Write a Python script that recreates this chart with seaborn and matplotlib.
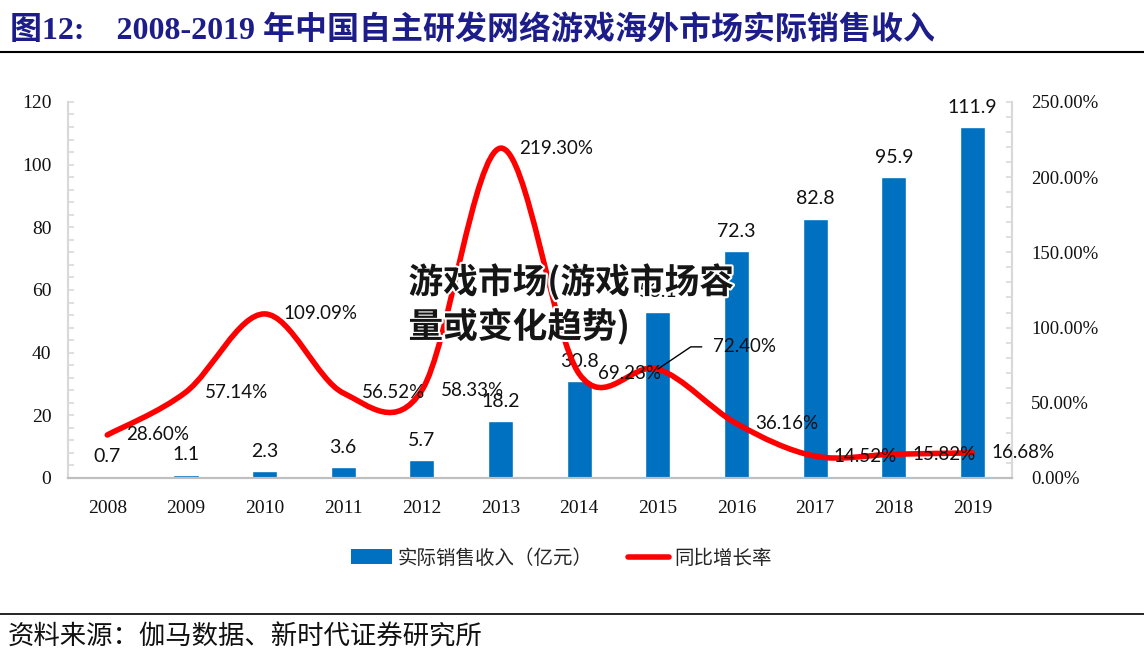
import numpy as np
import pandas as pd
import matplotlib
matplotlib.use("Agg")
import matplotlib.pyplot as plt
import matplotlib.patheffects as pe
from matplotlib.path import Path
from matplotlib.patches import PathPatch, Patch
from matplotlib.lines import Line2D
from matplotlib.ticker import MultipleLocator, FuncFormatter
import seaborn as sns

sns.set_style("white")
plt.rcParams['font.family'] = ['Liberation Serif', 'Noto Sans CJK SC', 'DejaVu Sans']

# données
years = ['2008', '2009', '2010', '2011', '2012', '2013',
         '2014', '2015', '2016', '2017', '2018', '2019']
revenue = [0.7, 1.1, 2.3, 3.6, 5.7, 18.2, 30.8, 53.1, 72.3, 82.8, 95.9, 111.9]
growth = [28.60, 57.14, 109.09, 56.52, 58.33, 219.30,
          69.23, 72.40, 36.16, 14.52, 15.82, 16.68]

title = "图12:    2008-2019 年中国自主研发网络游戏海外市场实际销售收入"
source = "资料来源：伽马数据、新时代证券研究所"
bar_name = "实际销售收入（亿元）"
line_name = "同比增长率"
overlay = "游戏市场(游戏市场容\n量或变化趋势)"

BLUE = '#0070C0'
RED = '#FF0000'
GRID = '#d9d9d9'

df = pd.DataFrame({'Année': years, 'Revenu': revenue, 'Croissance': growth})

fig = plt.figure(figsize=(11.44, 6.66), dpi=100)
ax = fig.add_axes([0.0594, 0.2823, 0.825, 0.5646])

# barres
sns.barplot(data=df, x='Année', y='Revenu', color=BLUE, saturation=1,
            width=0.32, ax=ax)
ax.bar_label(ax.containers[0], labels=[f"{v}" for v in revenue], padding=8,
             fontsize=14, family='Lato', color='#111111')
ax.set_xlim(-0.5, len(years) - 0.5)
ax.set_ylim(0, 120)
ax.set_xlabel("")
ax.set_ylabel("")
ax.yaxis.set_major_locator(MultipleLocator(20))
ax.yaxis.set_minor_locator(MultipleLocator(4))
ax.tick_params(axis='y', which='both', direction='in', length=4, color=GRID,
               width=1.2, labelsize=14, pad=12)
ax.tick_params(axis='x', length=0, labelsize=14, pad=16)

# courbe lissée sur l'axe droit
ax2 = ax.twinx()
ax2.set_ylim(0, 250)
ax2.yaxis.set_major_locator(MultipleLocator(50))
ax2.yaxis.set_minor_locator(MultipleLocator(10))
ax2.yaxis.set_major_formatter(FuncFormatter(lambda v, p: f"{v:.2f}%"))
ax2.tick_params(axis='y', which='both', direction='in', length=4, color=GRID,
                width=1.2, labelsize=13.5, pad=14)

xs = np.arange(len(years), dtype=float)
ys = np.array(growth)
pts = np.column_stack([xs, ys])
verts = [pts[0]]
codes = [Path.MOVETO]
n = len(pts)
for i in range(n - 1):
    p_prev = pts[max(i - 1, 0)]
    p_next2 = pts[min(i + 2, n - 1)]
    c1 = pts[i] + (pts[i + 1] - p_prev) / 6
    c2 = pts[i + 1] - (p_next2 - pts[i]) / 6
    verts += [c1, c2, pts[i + 1]]
    codes += [Path.CURVE4] * 3
ax2.add_patch(PathPatch(Path(verts, codes), facecolor='none', edgecolor=RED,
                        lw=4, capstyle='round', joinstyle='round',
                        transform=ax2.transData, zorder=3))

for i, g in enumerate(growth):
    if years[i] == '2015':
        ax2.annotate(f"{g:.2f}%", xy=(i, g), xytext=(40, 16),
                     textcoords='offset points', ha='left', va='center',
                     fontsize=13.5, family='Lato', color='#111111',
                     arrowprops=dict(arrowstyle='-', color='black', lw=1,
                                     shrinkA=6, shrinkB=0, relpos=(0, 0.5),
                                     connectionstyle='angle,angleA=180,angleB=34,rad=0'))
    else:
        ax2.annotate(f"{g:.2f}%", xy=(i, g), xytext=(13.5, 0),
                     textcoords='offset points', ha='left', va='center',
                     fontsize=13.5, family='Lato', color='#111111', zorder=4)

for a in (ax, ax2):
    a.spines['top'].set_visible(False)
    a.spines['left'].set_color(GRID)
    a.spines['right'].set_color(GRID)
    a.spines['left'].set_linewidth(1.5)
    a.spines['right'].set_linewidth(1.5)
    a.spines['bottom'].set_color('#bfbfbf')
    a.spines['bottom'].set_linewidth(1.5)
    for lab in a.get_yticklabels() + a.get_xticklabels():
        lab.set_color('#111111')

# légende
handles = [Patch(facecolor=BLUE, edgecolor='none'),
           Line2D([0], [0], color=RED, lw=4, solid_capstyle='round')]
fig.legend(handles, [bar_name, line_name], loc='center',
           bbox_to_anchor=(0.491, 0.162), ncol=2, frameon=False,
           prop={'family': 'Noto Sans CJK SC', 'size': 14},
           handlelength=2.1, handleheight=0.8, handletextpad=0.3,
           columnspacing=1.8)

# titre, filets et source
fig.text(0.009, 0.955, title, fontsize=23, fontweight='bold', color='#1c1c8a',
         ha='left', va='center')
fig.add_artist(Line2D([0, 1], [0.922, 0.922], color='black', lw=1.5))
fig.add_artist(Line2D([0, 1], [0.078, 0.078], color='black', lw=1.2))
fig.text(0.007, 0.044, source, fontsize=19, color='#111111',
         family=['Noto Sans CJK SC', 'DejaVu Sans'], ha='left', va='center')

# texte superposé
fig.text(0.357, 0.605, overlay, fontsize=25, fontweight='bold', color='#151515',
         family=['Noto Sans CJK SC', 'DejaVu Sans'], ha='left', va='top',
         linespacing=1.25,
         path_effects=[pe.withStroke(linewidth=3, foreground='white')])

fig.savefig('out.png', dpi=100)
